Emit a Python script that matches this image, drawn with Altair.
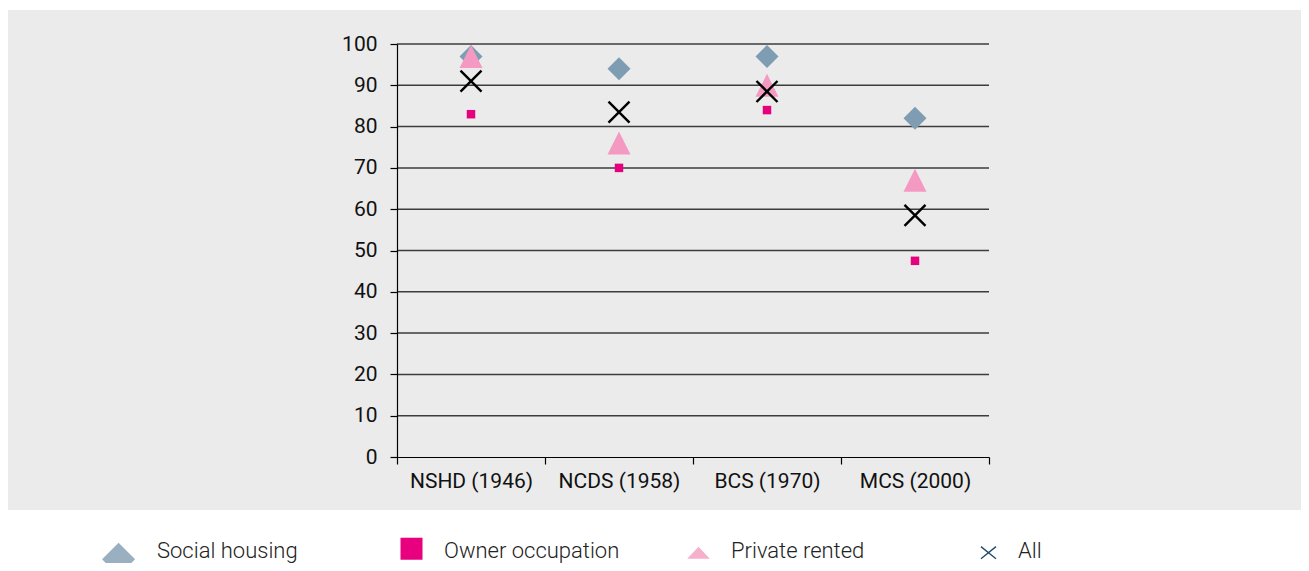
import altair as alt
import pandas as pd

cohorts = ["NSHD (1946)", "NCDS (1958)", "BCS (1970)", "MCS (2000)"]
series = ["Social housing", "Owner occupation", "Private rented", "All"]
social_housing = [97, 94, 97, 82]
owner_occupation = [83, 70, 84, 47.5]
private_rented = [97, 76, 90, 67]
all_tenures = [91, 83.5, 88.5, 58.5]
y_ticks = [0, 10, 20, 30, 40, 50, 60, 70, 80, 90, 100]
grid_values = [10, 20, 30, 40, 50, 60, 70, 80, 90, 100]

# marker styling per series (plot)
X_PATH = "M-1,-1L1,1M-1,1L1,-1"
TRI_PATH = "M0,-1L-1,1L1,1Z"
plot_fill = ["#7f9db2", "#e5007d", "#f49ac2", "transparent"]
plot_stroke = ["transparent", "transparent", "transparent", "#000000"]
plot_shape = ["diamond", "square", TRI_PATH, X_PATH]
plot_size = [529, 72, 529, 441]

# marker styling per series (legend): all drawn in the same box so entries line up
BOX = "M-1.4,-1.6M1.4,1.6"
legend_fill = ["#9ab0c1", "#e8007f", "#f6b0cc", "transparent"]
legend_stroke = ["transparent", "transparent", "transparent", "#1d4a6c"]
legend_shape = [
    BOX + "M-1.36,0.52L-0.36,-0.48L0.64,0.52L-0.36,1.52Z",
    BOX + "M-0.667,-0.79L0.667,-0.79L0.667,0.545L-0.667,0.545Z",
    BOX + "M-0.685,0.48L0.685,0.48L0,-0.25Z",
    BOX + "M-0.275,-0.25L0.635,0.48M-0.275,0.48L0.635,-0.25",
]
legend_size = [1089, 1089, 1089, 1089]

rows = []
for i, (name, vals) in enumerate(zip(series, [social_housing, owner_occupation, private_rented, all_tenures])):
    for c, v in zip(cohorts, vals):
        rows.append({"cohort": c, "series": name, "value": v,
                     "mfill": plot_fill[i], "mstroke": plot_stroke[i],
                     "mshape": plot_shape[i], "msize": plot_size[i]})
df = pd.DataFrame(rows)

FONT = "Roboto"
yscale = alt.Scale(domain=[0, 100], nice=False, zero=True)
yaxis = alt.Axis(
    title=None, values=y_ticks, tickSize=7, tickColor="black", domainColor="black",
    domainWidth=1.2, tickWidth=1.2, labelFont=FONT, labelFontSize=21, labelColor="#111111",
    labelPadding=13, zindex=1, grid=False,
)

bg = alt.Chart(pd.DataFrame({"k": [0]})).mark_rect(color="#ebebeb").encode(
    x=alt.value(-390), x2=alt.value(911), y=alt.value(-34), y2=alt.value(466)
)

grid = alt.Chart(pd.DataFrame({"v": grid_values})).mark_rule(
    color="#3c3c3c", strokeWidth=1.5
).encode(y=alt.Y("v:Q", scale=yscale, axis=yaxis))

points = alt.Chart(df).mark_point(opacity=1).encode(
    x=alt.X(
        "cohort:N",
        sort=cohorts,
        scale=alt.Scale(paddingInner=0, paddingOuter=0),
        axis=alt.Axis(
            title=None, labelAngle=0, tickBand="extent", tickSize=7, tickColor="black",
            domainColor="black", domainWidth=1.2, tickWidth=1.2, labelFont=FONT, labelFontSize=21,
            labelColor="#111111", labelPadding=6, zindex=1, grid=False,
        ),
    ),
    y=alt.Y("value:Q", scale=yscale, axis=yaxis),
    fill=alt.Fill("mfill:N", scale=None),
    stroke=alt.Stroke("mstroke:N", scale=None),
    shape=alt.Shape("mshape:N", scale=None),
    size=alt.Size("msize:Q", scale=None),
    strokeWidth=alt.value(2.4),
)

legend = alt.Legend(
    title=None,
    orient="none",
    legendX=-290,
    legendY=489,
    direction="horizontal",
    columns=4,
    gridAlign="all",
    columnPadding=52,
    labelFont=FONT,
    labelFontWeight=300,
    labelFontSize=22,
    labelColor="#222222",
    labelOffset=15,
    labelLimit=400,
    symbolOpacity=1,
    symbolStrokeWidth=1.3,
)

legend_keys = alt.Chart(pd.DataFrame({"series": series})).mark_point(opacity=0).encode(
    fill=alt.Fill("series:N", scale=alt.Scale(domain=series, range=legend_fill), legend=legend),
    stroke=alt.Stroke("series:N", scale=alt.Scale(domain=series, range=legend_stroke), legend=legend),
    shape=alt.Shape("series:N", scale=alt.Scale(domain=series, range=legend_shape), legend=legend),
    size=alt.Size("series:N", scale=alt.Scale(domain=series, range=legend_size), legend=legend),
)

chart = alt.layer(bg, grid, points, legend_keys).properties(
    width=592,
    height=413,
    autosize=alt.AutoSizeParams(type="none"),
    padding={"left": 389, "top": 36, "right": 312, "bottom": 106},
    background="white",
).configure_view(stroke=None)

chart.save("out.html", embed_options={"renderer": "svg", "actions": False})
